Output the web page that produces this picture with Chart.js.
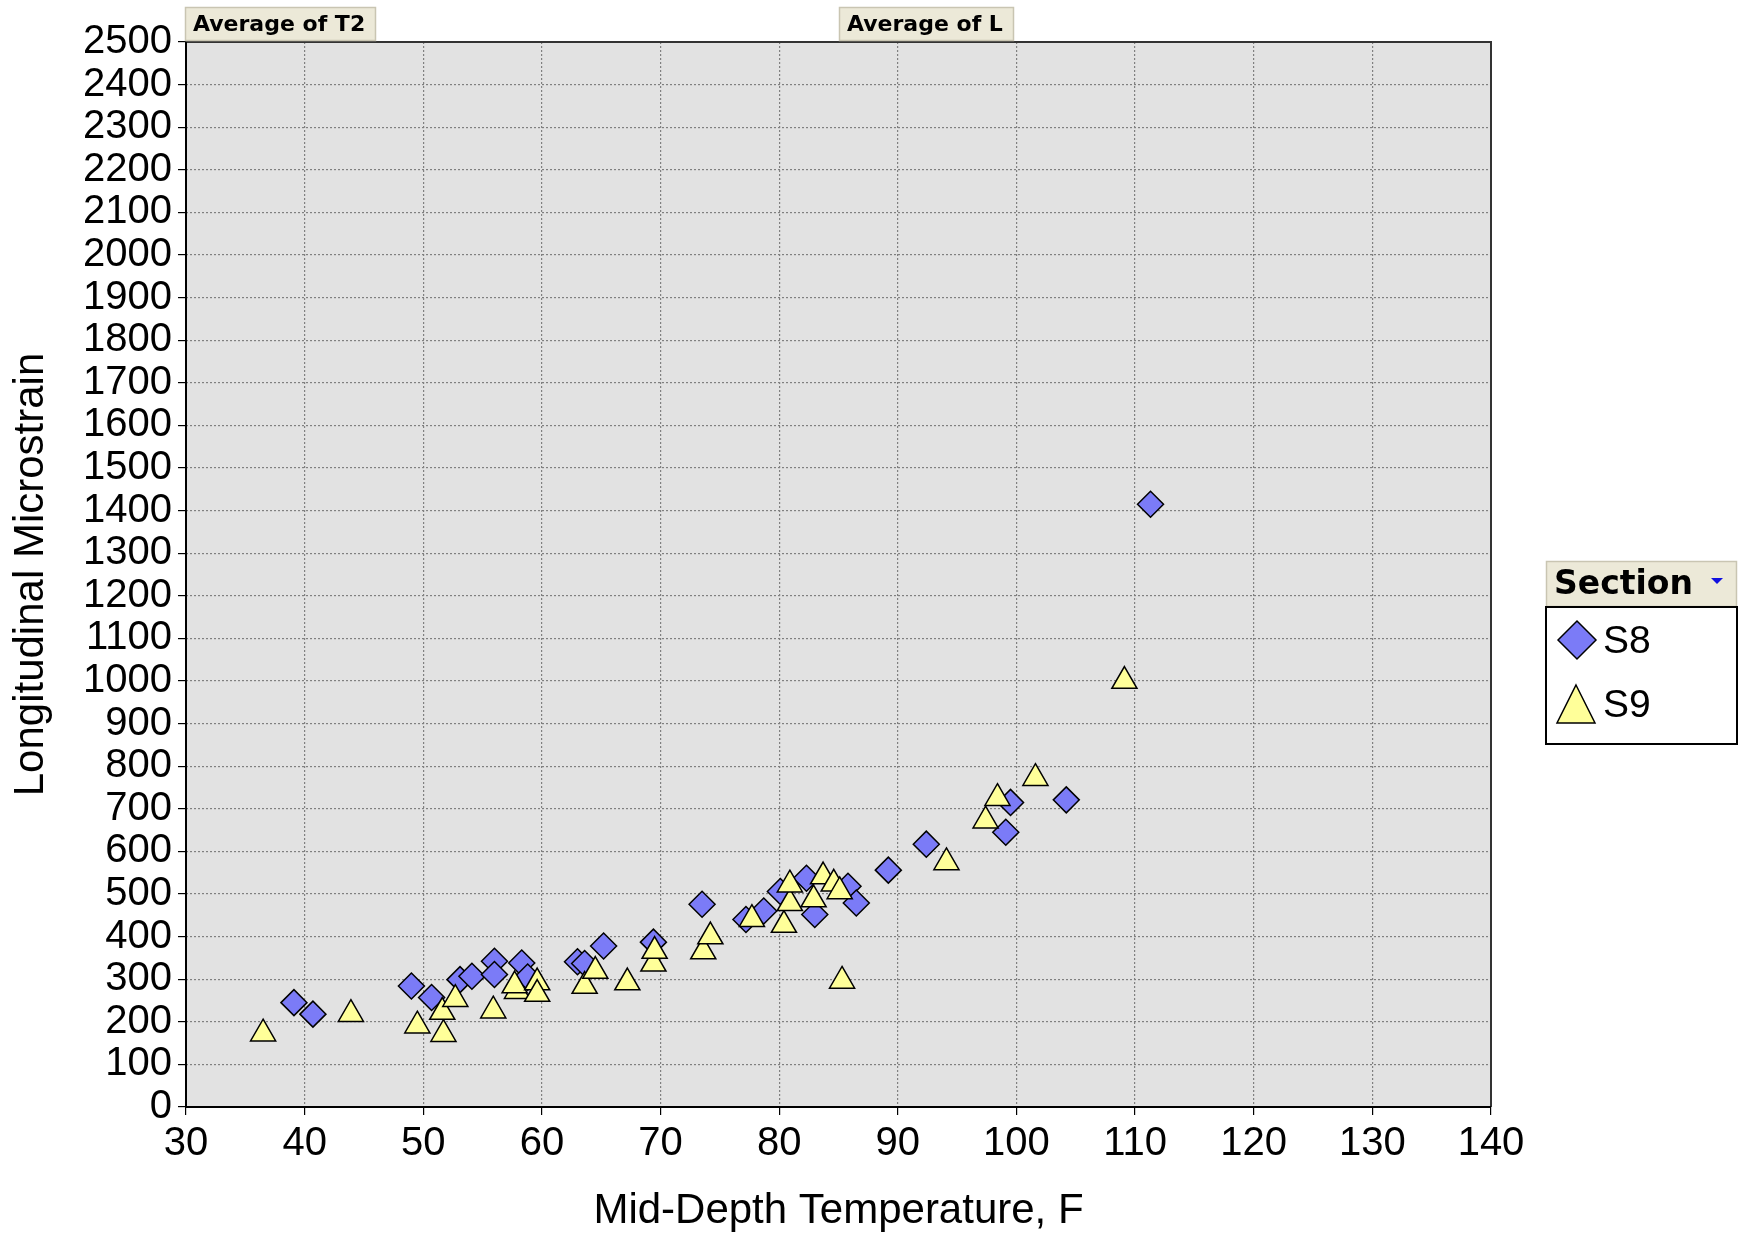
<!DOCTYPE html>
<html>
<head>
<meta charset="utf-8">
<script src="https://cdn.jsdelivr.net/npm/chart.js@4.4.1/dist/chart.umd.min.js"></script>
<style>
  html, body { margin: 0; padding: 0; background: #ffffff; }
  canvas { display: block; }
</style>
</head>
<body>
<canvas id="chart" width="1744" height="1237"></canvas>
<script>
// Section S8 (diamonds): mid-depth temperature (F) vs longitudinal microstrain
const s8Temp = [39.1, 40.7, 49.0, 50.7, 53.1, 54.1, 56.0, 56.0, 58.3, 58.8, 63.0, 63.6, 65.2, 69.4,
  73.5, 77.2, 78.7, 80.1, 82.3, 83.0, 85.8, 86.5, 89.2, 92.4, 99.1, 99.5, 104.2, 111.3]
const s8Strain = [245, 218, 284, 257, 299, 307, 342, 311, 338, 305, 341, 337, 378, 387,
  476, 440, 460, 506, 537, 452, 518, 479, 556, 617, 645, 715, 721, 1415]

// Section S9 (triangles)
const s9Temp = [36.5, 43.9, 49.5, 51.7, 51.6, 52.7, 55.9, 57.9, 57.7, 59.6, 59.6, 63.6, 64.5, 67.2,
  69.4, 69.5, 73.6, 74.2, 77.7, 80.4, 80.9, 80.9, 82.9, 83.7, 84.6, 85.1, 85.3, 94.1, 97.4, 98.4, 101.6, 109.1]
const s9Strain = [172, 218, 191, 171, 223, 253, 226, 272, 285, 292, 265, 284, 319, 292,
  336, 366, 365, 400, 441, 427, 478, 522, 487, 541, 524, 506, 296, 574, 672, 725, 772, 1000]

const seriesNames = ['S8', 'S9']
const fieldButtons = ['Average of T2', 'Average of L']
const legendTitle = 'Section'

const xTitle = 'Mid-Depth Temperature, F'
const yTitle = 'Longitudinal Microstrain'

const diamondFill = '#7B7BF7'
const triangleFill = '#FFFF99'

function toPoints(xs, ys) {
  return xs.map((x, i) => ({ x: x, y: ys[i] }))
}

function drawDiamond(ctx, x, y, r) {
  ctx.beginPath()
  ctx.moveTo(x - r, y)
  ctx.lineTo(x, y - r)
  ctx.lineTo(x + r, y)
  ctx.lineTo(x, y + r)
  ctx.closePath()
  ctx.fillStyle = diamondFill
  ctx.fill()
  ctx.lineWidth = 1.5
  ctx.strokeStyle = '#000'
  ctx.stroke()
}

function drawTriangle(ctx, cx, top, w, h) {
  ctx.beginPath()
  ctx.moveTo(cx, top)
  ctx.lineTo(cx + w / 2, top + h)
  ctx.lineTo(cx - w / 2, top + h)
  ctx.closePath()
  ctx.fillStyle = triangleFill
  ctx.fill()
  ctx.lineWidth = 1.5
  ctx.strokeStyle = '#000'
  ctx.stroke()
}

function drawButton(ctx, text, x, y, w, h, font) {
  ctx.fillStyle = '#ECE9D8'
  ctx.fillRect(x, y, w, h)
  ctx.strokeStyle = '#C9C5B2'
  ctx.lineWidth = 1.5
  ctx.strokeRect(x + 0.5, y + 0.5, w - 1, h - 1)
  ctx.fillStyle = '#000'
  ctx.font = font
  ctx.textAlign = 'left'
  ctx.textBaseline = 'middle'
  ctx.fillText(text, x + 8, y + h / 2 + 1)
}

// plot background, frame, field buttons and the pivot-style legend
const decorations = {
  id: 'decorations',
  beforeDraw(chart) {
    const { ctx, chartArea: a } = chart
    ctx.save()
    ctx.fillStyle = '#E2E2E2'
    ctx.fillRect(a.left, a.top, a.right - a.left, a.bottom - a.top)
    ctx.restore()
  },
  afterDraw(chart) {
    const { ctx, chartArea: a } = chart
    ctx.save()
    ctx.strokeStyle = '#333'
    ctx.lineWidth = 2
    ctx.beginPath()
    ctx.moveTo(a.left, a.top)
    ctx.lineTo(a.right, a.top)
    ctx.lineTo(a.right, a.bottom)
    ctx.stroke()
    ctx.strokeStyle = '#000'
    ctx.beginPath()
    ctx.moveTo(a.left, a.top)
    ctx.lineTo(a.left, a.bottom)
    ctx.lineTo(a.right, a.bottom)
    ctx.stroke()

    const btnFont = 'bold 22px "DejaVu Sans"'
    drawButton(ctx, fieldButtons[0], 185, 7, 191, 34, btnFont)
    drawButton(ctx, fieldButtons[1], 839, 7, 175, 34, btnFont)

    // legend
    const lx = 1546, lw = 191
    drawButton(ctx, legendTitle, lx, 561, lw, 46, 'bold 33px "DejaVu Sans"')
    ctx.fillStyle = '#1010E0'
    ctx.beginPath()
    ctx.moveTo(1711, 578)
    ctx.lineTo(1723, 578)
    ctx.lineTo(1717, 584)
    ctx.closePath()
    ctx.fill()

    ctx.fillStyle = '#fff'
    ctx.fillRect(lx, 607, lw, 137)
    ctx.strokeStyle = '#000'
    ctx.lineWidth = 2
    ctx.strokeRect(lx, 607, lw, 137)

    drawDiamond(ctx, 1577, 640, 19)
    drawTriangle(ctx, 1576, 685, 38, 38)
    ctx.fillStyle = '#000'
    ctx.font = '39px "Liberation Sans", Arial, sans-serif'
    ctx.textAlign = 'left'
    ctx.textBaseline = 'middle'
    ctx.fillText(seriesNames[0], 1603, 642)
    ctx.fillText(seriesNames[1], 1603, 706)
    ctx.restore()
  }
}

const tickFont = { family: '"Liberation Sans", Arial, sans-serif', size: 40 }
const titleFont = { family: '"Liberation Sans", Arial, sans-serif', size: 42 }

new Chart(document.getElementById('chart'), {
  type: 'scatter',
  data: {
    datasets: [
      {
        label: seriesNames[0],
        data: toPoints(s8Temp, s8Strain),
        pointStyle: 'rectRot',
        pointRadius: 13,
        backgroundColor: diamondFill,
        borderColor: '#000',
        borderWidth: 1.5,
        order: 1
      },
      {
        label: seriesNames[1],
        data: toPoints(s9Temp, s9Strain),
        pointStyle: 'triangle',
        pointRadius: 14.5,
        backgroundColor: triangleFill,
        borderColor: '#000',
        borderWidth: 1.5,
        order: 0
      }
    ]
  },
  options: {
    responsive: false,
    animation: false,
    events: [],
    layout: {
      padding: { top: 42, right: 253, left: 0, bottom: 0 }
    },
    plugins: {
      legend: { display: false },
      tooltip: { enabled: false }
    },
    scales: {
      x: {
        type: 'linear',
        min: 30,
        max: 140,
        afterFit: (scale) => { scale.height = 130 },
        ticks: {
          stepSize: 10,
          autoSkip: false,
          maxRotation: 0,
          color: '#000',
          font: tickFont,
          padding: 5,
          callback: (v) => String(v)
        },
        grid: {
          color: '#808080',
          lineWidth: 1.2,
          tickLength: 8,
          tickColor: '#000'
        },
        border: { display: false, dash: [2, 2] },
        title: {
          display: true,
          text: xTitle,
          color: '#000',
          font: titleFont,
          padding: { top: 0, bottom: 0 }
        }
      },
      y: {
        min: 0,
        max: 2500,
        afterFit: (scale) => { scale.width = 186 },
        ticks: {
          stepSize: 100,
          autoSkip: false,
          color: '#000',
          font: tickFont,
          padding: 6,
          callback: (v) => String(v)
        },
        grid: {
          color: '#808080',
          lineWidth: 1.2,
          tickLength: 8,
          tickColor: '#000'
        },
        border: { display: false, dash: [2, 2] },
        title: {
          display: true,
          text: yTitle,
          color: '#000',
          font: titleFont,
          padding: { top: 6, bottom: 0 }
        }
      }
    }
  },
  plugins: [decorations]
})
</script>
</body>
</html>
